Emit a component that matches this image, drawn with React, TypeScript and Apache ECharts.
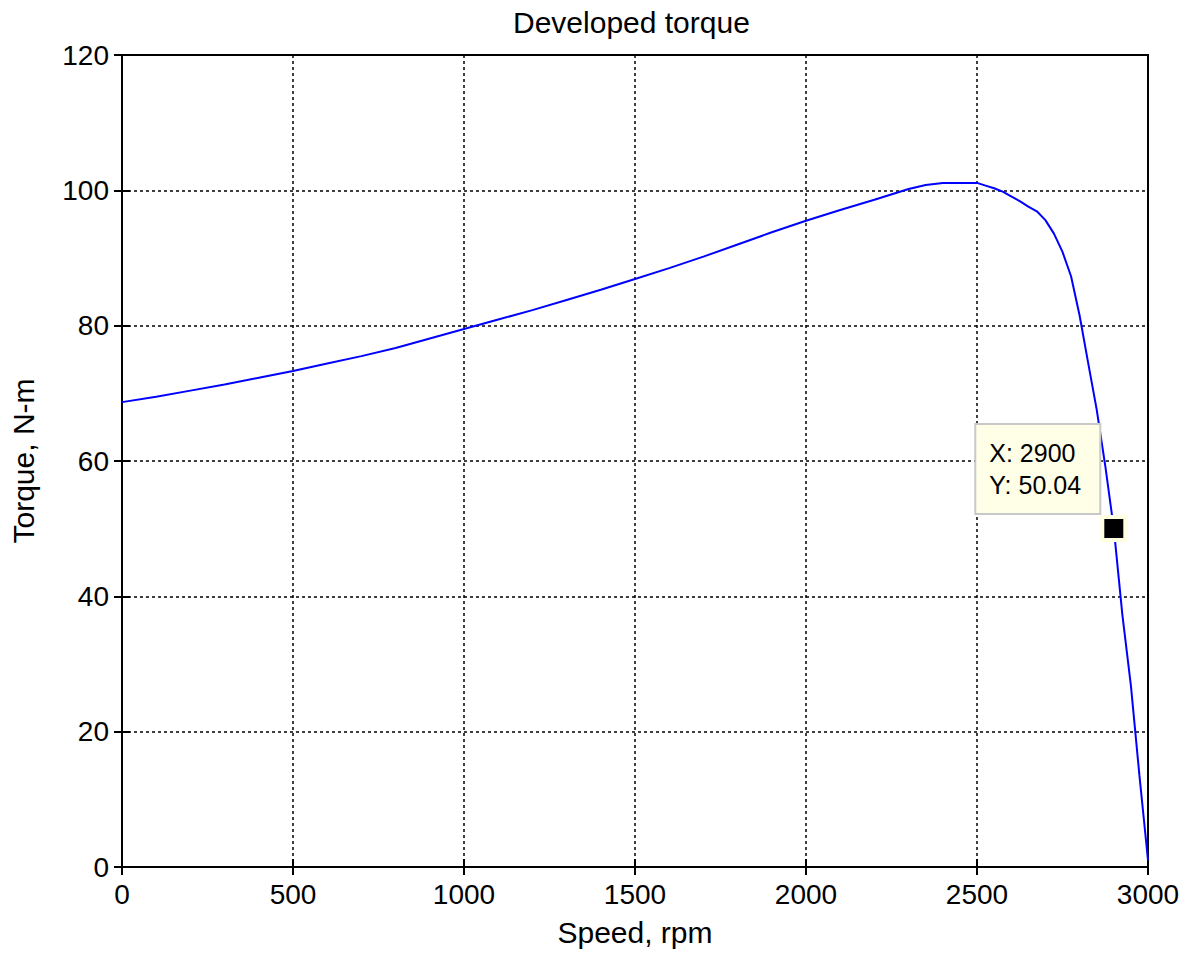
import React, { useEffect, useRef } from "react";
import * as echarts from "echarts";

const speed = [
  0, 100, 200, 300, 400, 500, 600, 700, 800, 900, 1000, 1100, 1200, 1300, 1400,
  1500, 1600, 1700, 1800, 1900, 2000, 2100, 2200, 2300, 2350, 2400, 2450, 2500,
  2525, 2550, 2575, 2600, 2625, 2650, 2675, 2700, 2725, 2750, 2775, 2800, 2825,
  2850, 2875, 2900, 2925, 2950, 2975, 3000,
];
const torque = [
  68.7, 69.5, 70.4, 71.3, 72.3, 73.3, 74.4, 75.5, 76.7, 78.1, 79.5, 80.9, 82.3, 83.8, 85.3,
  86.9, 88.5, 90.2, 92.0, 93.8, 95.5, 97.1, 98.6, 100.2, 100.8, 101.1, 101.1, 101.1,
  100.7, 100.3, 99.8, 99.1, 98.4, 97.6, 96.9, 95.6, 93.6, 90.9, 87.3, 81.5, 74.5,
  67.6, 59.3, 50.04, 37.3, 26.8, 13.5, 1.0,
];
const xTicks = [0, 500, 1000, 1500, 2000, 2500, 3000];
const yTicks = [0, 20, 40, 60, 80, 100, 120];
const tipPoint = [2900, 50.04];

const FONT = 'Arial, "Liberation Sans", Helvetica, sans-serif';

export default function App() {
  const ref = useRef<HTMLDivElement>(null);
  useEffect(() => {
    document.body.style.margin = "0";
    const chart = echarts.init(ref.current!, null, { renderer: "svg" });
    const gridLine = { show: true, lineStyle: { color: "#000", type: [3, 3] as any, width: 1.5 } };
    const tickIn = { show: true, inside: true, length: 8, lineStyle: { color: "#000", width: 2 } };
    const plain = (v: number) => String(v);
    chart.setOption({
      animation: false,
      backgroundColor: "#fff",
      textStyle: { fontFamily: FONT },
      title: {
        text: "Developed torque",
        left: 508,
        top: 2,
        textStyle: { fontFamily: FONT, fontSize: 30, fontWeight: "normal", color: "#000" },
      },
      grid: { left: 121, top: 55, right: 48, bottom: 90, show: true, borderColor: "#000", borderWidth: 2 },
      xAxis: [
        {
          type: "value",
          min: xTicks[0],
          max: xTicks[xTicks.length - 1],
          interval: 500,
          name: "Speed, rpm",
          nameLocation: "middle",
          nameGap: 50,
          nameTextStyle: { fontFamily: FONT, fontSize: 30, color: "#000" },
          axisLine: { show: true, lineStyle: { color: "#000", width: 2 } },
          axisTick: tickIn,
          axisLabel: { fontFamily: FONT, fontSize: 28, color: "#000", margin: 13, formatter: plain },
          splitLine: gridLine,
        },
        {
          type: "value",
          position: "top",
          min: xTicks[0],
          max: xTicks[xTicks.length - 1],
          interval: 500,
          axisLine: { show: true, lineStyle: { color: "#000", width: 2 } },
          axisTick: tickIn,
          axisLabel: { show: false },
          splitLine: { show: false },
        },
      ],
      yAxis: [
        {
          type: "value",
          min: yTicks[0],
          max: yTicks[yTicks.length - 1],
          interval: 20,
          name: "Torque, N-m",
          nameLocation: "middle",
          nameGap: 84,
          nameTextStyle: { fontFamily: FONT, fontSize: 30, color: "#000" },
          axisLine: { show: true, lineStyle: { color: "#000", width: 2 } },
          axisTick: tickIn,
          axisLabel: { fontFamily: FONT, fontSize: 28, color: "#000", margin: 13, formatter: plain },
          splitLine: gridLine,
        },
        {
          type: "value",
          position: "right",
          min: yTicks[0],
          max: yTicks[yTicks.length - 1],
          interval: 20,
          axisLine: { show: true, lineStyle: { color: "#000", width: 2 } },
          axisTick: tickIn,
          axisLabel: { show: false },
          splitLine: { show: false },
        },
      ],
      series: [
        {
          type: "line",
          data: speed.map((s, i) => [s, torque[i]]),
          symbol: "none",
          lineStyle: { color: "#0000ff", width: 2 },
          z: 3,
        },
        {
          type: "scatter",
          data: [tipPoint],
          symbol: "rect",
          symbolSize: 23,
          itemStyle: { color: "#000", borderColor: "#ffffe1", borderWidth: 4, opacity: 1 },
          z: 5,
          label: {
            show: true,
            position: [-124, -90],
            formatter: () => `X: ${tipPoint[0]}\nY: ${tipPoint[1].toFixed(2)}`,
            fontFamily: FONT,
            fontSize: 25,
            lineHeight: 32,
            color: "#000",
            backgroundColor: "#ffffe8",
            borderColor: "#c8c8c8",
            borderWidth: 2,
            padding: [12, 14, 12, 13],
            width: 96,
          },
        },
      ],
    });
    return () => chart.dispose();
  }, []);
  return <div ref={ref} style={{ position: "fixed", left: 0, top: 0, width: 1196, height: 957 }} />;
}
